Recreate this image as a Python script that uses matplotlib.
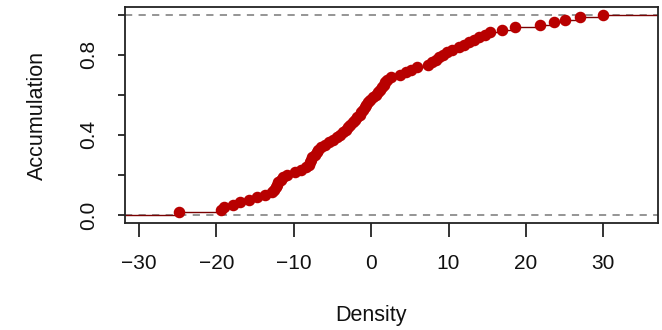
import numpy as np
import matplotlib
matplotlib.use("Agg")
import matplotlib.pyplot as plt

# sample values (sorted) for the empirical CDF
density = [
    -24.8, -19.4, -19.0, -17.8, -17.0, -15.8, -14.7, -13.7, -12.8, -12.5,
    -12.3, -12.2, -12.0, -11.7, -11.4, -10.9, -9.8, -9.0, -8.4, -8.0,
    -7.9, -7.8, -7.6, -7.3, -7.0, -6.8, -6.5, -6.0, -5.4, -4.9,
    -4.4, -4.0, -3.6, -3.3, -3.0, -2.7, -2.4, -2.1, -1.8, -1.5,
    -1.3, -1.0, -0.8, -0.6, -0.4, -0.1, 0.3, 0.6, 0.9, 1.1,
    1.4, 1.6, 1.8, 2.1, 2.6, 3.7, 4.5, 5.2, 5.9, 7.3,
    7.9, 8.4, 8.8, 9.3, 9.8, 10.5, 11.3, 12.0, 12.6, 13.3,
    14.0, 14.7, 15.4, 16.9, 18.6, 21.8, 23.6, 25.1, 27.0, 30.0,
]
x_ticks = [-30, -20, -10, 0, 10, 20, 30]
y_ticks = [0.0, 0.2, 0.4, 0.6, 0.8, 1.0]
y_tick_labels = ["0.0", "", "0.4", "", "0.8", ""]

plt.rcParams["font.family"] = ["Liberation Sans", "DejaVu Sans"]

RED = "#b80000"
SEG = "#7a0000"
INK = "#111111"

xs = np.sort(np.asarray(density))
ys = np.arange(1, len(xs) + 1) / len(xs)
xlim = (-31.8, 37.0)

fig = plt.figure(figsize=(6.62, 3.30), dpi=100)
ax = fig.add_axes([125 / 662, 1 - 223 / 330, 532.5 / 662, 216.5 / 330])

# reference lines at 0 and 1
for h in (0, 1):
    ax.axhline(h, color="#8c8c8c", lw=1.3, ls=(0, (4, 3.5)), zorder=1)

# horizontal steps of the ecdf (no verticals)
left = np.concatenate([[xlim[0]], xs])
right = np.concatenate([xs, [xlim[1]]])
levels = np.concatenate([[0.0], ys])
ax.hlines(levels, left, right, color=SEG, lw=1.0, zorder=2)
ax.plot(xs, ys, "o", ms=7.3, color=RED, mec=RED, zorder=3)

ax.set_xlim(*xlim)
ax.set_ylim(-0.04, 1.04)
ax.set_xticks(x_ticks)
ax.set_xticklabels([f"{t:d}".replace("-", "\u2212") for t in x_ticks], fontsize=15)
ax.set_yticks(y_ticks)
ax.set_yticklabels(y_tick_labels, fontsize=15, rotation=90, va="center")
ax.tick_params(axis="x", length=10, width=1.2, pad=12, colors=INK)
ax.tick_params(axis="y", length=5, width=1.2, pad=14, colors=INK)

for s in ax.spines.values():
    s.set_linewidth(1.3)
    s.set_color("#222222")

fig.text(371 / 662, 1 - 316 / 330, "Density", ha="center", va="center",
         fontsize=15.5, color=INK)
fig.text(37 / 662, 1 - 115 / 330, "Accumulation", ha="center", va="center",
         rotation=90, fontsize=15.5, color=INK)

fig.savefig("out.png", dpi=100)
